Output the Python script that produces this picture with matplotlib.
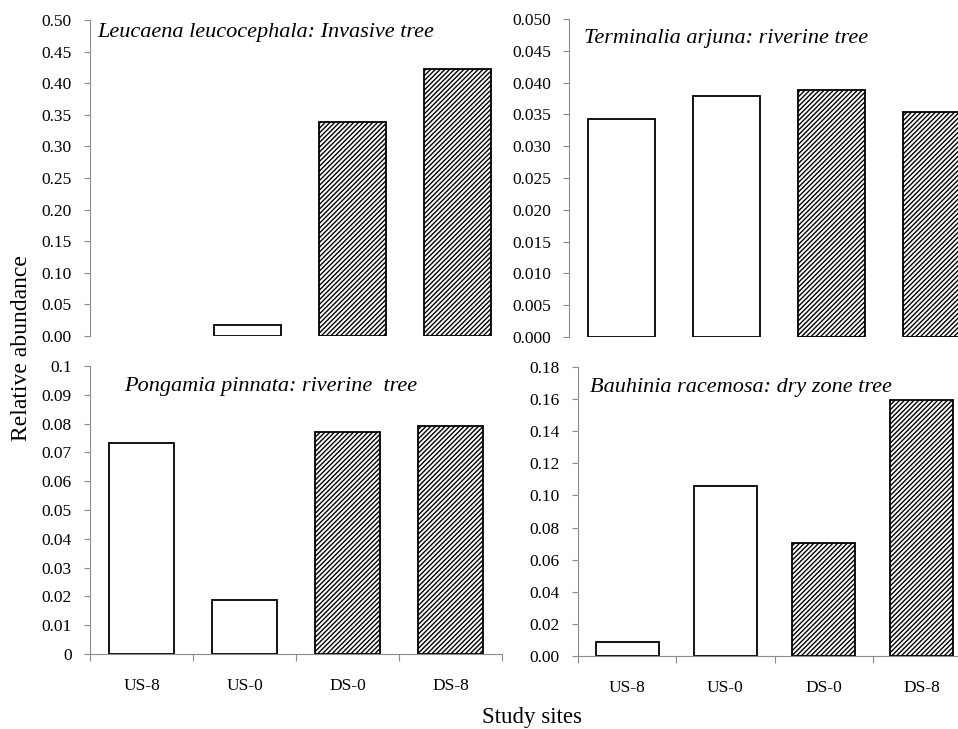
import numpy as np
import matplotlib
matplotlib.use("Agg")
import matplotlib.pyplot as plt

plt.rcParams['font.family'] = ['Liberation Serif', 'DejaVu Serif']
plt.rcParams['hatch.linewidth'] = 1.0

sites = ["US-8", "US-0", "DS-0", "DS-8"]

leucaena = [0.0, 0.018, 0.339, 0.422]
terminalia = [0.0343, 0.0379, 0.0388, 0.0354]
pongamia = [0.0732, 0.0188, 0.0772, 0.0791]
bauhinia = [0.0089, 0.1059, 0.0706, 0.1593]

titles = ["Leucaena leucocephala: Invasive tree",
          "Terminalia arjuna: riverine tree",
          "Pongamia pinnata: riverine  tree",
          "Bauhinia racemosa: dry zone tree"]

W, H = 958, 729
fig = plt.figure(figsize=(W / 100, H / 100), dpi=100)


def px_axes(left, right, bottom, top):
    # pixel box -> figure fraction
    return fig.add_axes([left / W, 1 - bottom / H, (right - left) / W, (bottom - top) / H])


def draw(ax, vals, ymax, ystep, fmt, title, tx, ty, show_x):
    x = np.arange(len(sites))
    hatches = ["", "", "///////", "///////"]
    for i, v in enumerate(vals):
        if v > 0:
            ax.bar(x[i], v, width=0.64, color="white", edgecolor="black",
                   linewidth=1.3, hatch=hatches[i])
    ax.set_xlim(-0.5, 3.5)
    ax.set_ylim(0, ymax)
    ticks = np.arange(0, ymax + ystep / 2, ystep)
    ax.set_yticks(ticks)
    ax.set_yticklabels([fmt(t) for t in ticks])
    for s in ["top", "right"]:
        ax.spines[s].set_visible(False)
    ax.spines["left"].set_color("#8c8c8c")
    ax.spines["bottom"].set_color("#8c8c8c")
    ax.tick_params(axis="y", direction="out", length=4, color="#8c8c8c",
                   labelsize=12.5, pad=9)
    if show_x:
        ax.set_xticks([-0.5, 0.5, 1.5, 2.5, 3.5])
        ax.set_xticklabels([])
        ax.set_xticks(x, minor=True)
        ax.set_xticklabels(sites, minor=True)
        ax.tick_params(axis="x", which="major", direction="out", length=5,
                       color="#8c8c8c")
        ax.tick_params(axis="x", which="minor", length=0, labelsize=12.5, pad=17)
    else:
        ax.spines["bottom"].set_visible(False)
        ax.set_xticks([])
    ax.text(tx, ty, title, transform=ax.transAxes, fontsize=16,
            style="italic", ha="left", va="center")


ax1 = px_axes(90, 510, 336, 20)
draw(ax1, leucaena, 0.5, 0.05, lambda t: "%.2f" % t, titles[0], 0.017, 0.96, False)

ax2 = px_axes(569, 989, 337, 19)
draw(ax2, terminalia, 0.05, 0.005, lambda t: "%.3f" % t, titles[1], 0.036, 0.94, False)

ax3 = px_axes(90, 502, 654, 366)
draw(ax3, pongamia, 0.1, 0.01, lambda t: ("%.2f" % t).rstrip("0").rstrip(".") if t > 0 else "0",
     titles[2], 0.082, 0.93, True)

ax4 = px_axes(578, 971, 656, 367)
draw(ax4, bauhinia, 0.18, 0.02, lambda t: "%.2f" % t, titles[3], 0.031, 0.93, True)

fig.text(22 / W, 1 - 348 / H, "Relative abundance", rotation=90,
         ha="center", va="center", fontsize=17)
fig.text(532 / W, 1 - 717 / H, "Study sites", ha="center", va="center", fontsize=16.5)

fig.savefig("out.png", dpi=100)
